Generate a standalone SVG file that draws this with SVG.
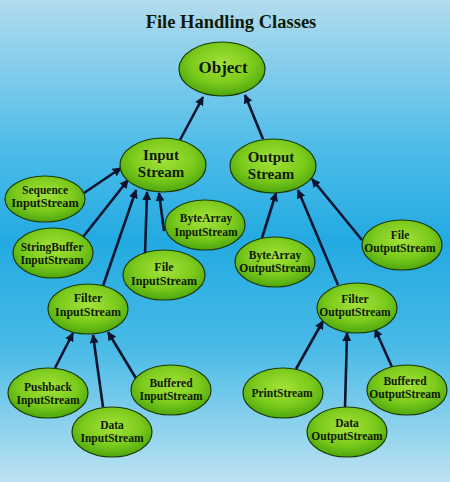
<svg xmlns="http://www.w3.org/2000/svg" width="450" height="482" viewBox="0 0 450 482">
<defs>
<linearGradient id="bg" x1="0" y1="0" x2="0" y2="1">
<stop offset="0" stop-color="#b2dbee"/>
<stop offset="0.3" stop-color="#4fbde8"/>
<stop offset="0.5" stop-color="#23aae2"/>
<stop offset="0.72" stop-color="#48bae6"/>
<stop offset="1" stop-color="#bde2f1"/>
</linearGradient>
<radialGradient id="gr" cx="0.5" cy="0.4" r="0.6">
<stop offset="0" stop-color="#a4e23a"/>
<stop offset="0.6" stop-color="#7ccb1c"/>
<stop offset="1" stop-color="#4ea70d"/>
</radialGradient>
<marker id="ah" viewBox="0 0 10 10" refX="9" refY="5" markerWidth="9" markerHeight="9" markerUnits="userSpaceOnUse" orient="auto">
<path d="M0,0 L10,5 L0,10 z" fill="#0b1530"/>
</marker>
<style>
.n ellipse{fill:url(#gr);stroke:#1c3a06;stroke-width:1.2}
.t{font-family:"Liberation Serif","DejaVu Serif",serif;font-weight:bold;fill:#0d1a06;text-anchor:middle}
.s{font-size:11.5px}
.m{font-size:15px}
.c line{stroke:#0b1530;stroke-width:2.6;marker-end:url(#ah)}
</style>
</defs>
<rect width="450" height="482" fill="url(#bg)"/>
<text class="t" x="231" y="28" font-size="18.5">File Handling Classes</text>
<g class="c" id="connectors">
<line x1="180" y1="140" x2="203" y2="97"/>
<line x1="263" y1="139" x2="245" y2="95"/>
<line x1="84" y1="193" x2="121" y2="168"/>
<line x1="83" y1="237" x2="128" y2="180"/>
<line x1="103" y1="286" x2="136" y2="190"/>
<line x1="145" y1="255" x2="147" y2="192"/>
<line x1="164" y1="231" x2="159" y2="193"/>
<line x1="262" y1="238" x2="276" y2="193"/>
<line x1="338" y1="285" x2="298" y2="190"/>
<line x1="362" y1="240" x2="312" y2="179"/>
<line x1="55" y1="368" x2="73" y2="333"/>
<line x1="103" y1="407" x2="93" y2="335"/>
<line x1="137" y1="380" x2="108" y2="332"/>
<line x1="296" y1="369" x2="323" y2="321"/>
<line x1="345" y1="408" x2="347" y2="333"/>
<line x1="392" y1="367" x2="375" y2="329"/>
</g>
<g class="n" id="object"><ellipse cx="222" cy="69" rx="43" ry="27"/><text class="t" x="223" y="73" font-size="17">Object</text></g>
<g class="n" id="inputstream"><ellipse cx="163" cy="165" rx="43" ry="27"/><text class="t m" x="161" y="160">Input</text><text class="t m" x="161" y="177">Stream</text></g>
<g class="n" id="outputstream"><ellipse cx="273" cy="166" rx="43" ry="27"/><text class="t m" x="271" y="162">Output</text><text class="t m" x="271" y="179">Stream</text></g>
<g class="n" id="sequence"><ellipse cx="45" cy="199" rx="40" ry="23"/><text class="t s" x="45" y="194">Sequence</text><text class="t" x="45" y="207" font-size="12.3">InputStream</text></g>
<g class="n" id="stringbuffer"><ellipse cx="53" cy="253" rx="40" ry="25"/><text class="t s" x="52" y="251">StringBuffer</text><text class="t s" x="52" y="264">InputStream</text></g>
<g class="n" id="bytearrayin"><ellipse cx="205" cy="225" rx="40" ry="25"/><text class="t s" x="206" y="222">ByteArray</text><text class="t s" x="206" y="236">InputStream</text></g>
<g class="n" id="filein"><ellipse cx="164" cy="275" rx="41" ry="25"/><text class="t" x="164" y="271" font-size="12">File</text><text class="t" x="164" y="285" font-size="12">InputStream</text></g>
<g class="n" id="filterin"><ellipse cx="88" cy="309" rx="40" ry="25"/><text class="t" x="88" y="302" font-size="12">Filter</text><text class="t" x="88" y="316" font-size="12">InputStream</text></g>
<g class="n" id="bytearrayout"><ellipse cx="275" cy="262" rx="40" ry="25"/><text class="t s" x="275" y="259">ByteArray</text><text class="t s" x="275" y="272">OutputStream</text></g>
<g class="n" id="fileout"><ellipse cx="402" cy="245" rx="40" ry="25"/><text class="t s" x="400" y="239">File</text><text class="t s" x="400" y="252">OutputStream</text></g>
<g class="n" id="filterout"><ellipse cx="357" cy="308" rx="40" ry="25"/><text class="t s" x="355" y="303">Filter</text><text class="t s" x="355" y="316">OutputStream</text></g>
<g class="n" id="pushback"><ellipse cx="48" cy="393" rx="40" ry="25"/><text class="t s" x="48" y="391">Pushback</text><text class="t s" x="48" y="404">InputStream</text></g>
<g class="n" id="datain"><ellipse cx="112" cy="432" rx="40" ry="25"/><text class="t s" x="112" y="429">Data</text><text class="t s" x="112" y="442">InputStream</text></g>
<g class="n" id="bufferedin"><ellipse cx="171" cy="390" rx="40" ry="25"/><text class="t s" x="171" y="387">Buffered</text><text class="t s" x="171" y="400">InputStream</text></g>
<g class="n" id="printstream"><ellipse cx="283" cy="393" rx="40" ry="25"/><text class="t s" x="282" y="397">PrintStream</text></g>
<g class="n" id="dataout"><ellipse cx="347" cy="432" rx="40" ry="25"/><text class="t s" x="347" y="427">Data</text><text class="t s" x="347" y="440">OutputStream</text></g>
<g class="n" id="bufferedout"><ellipse cx="407" cy="390" rx="40" ry="25"/><text class="t s" x="405" y="385">Buffered</text><text class="t s" x="405" y="398">OutputStream</text></g>
</svg>
